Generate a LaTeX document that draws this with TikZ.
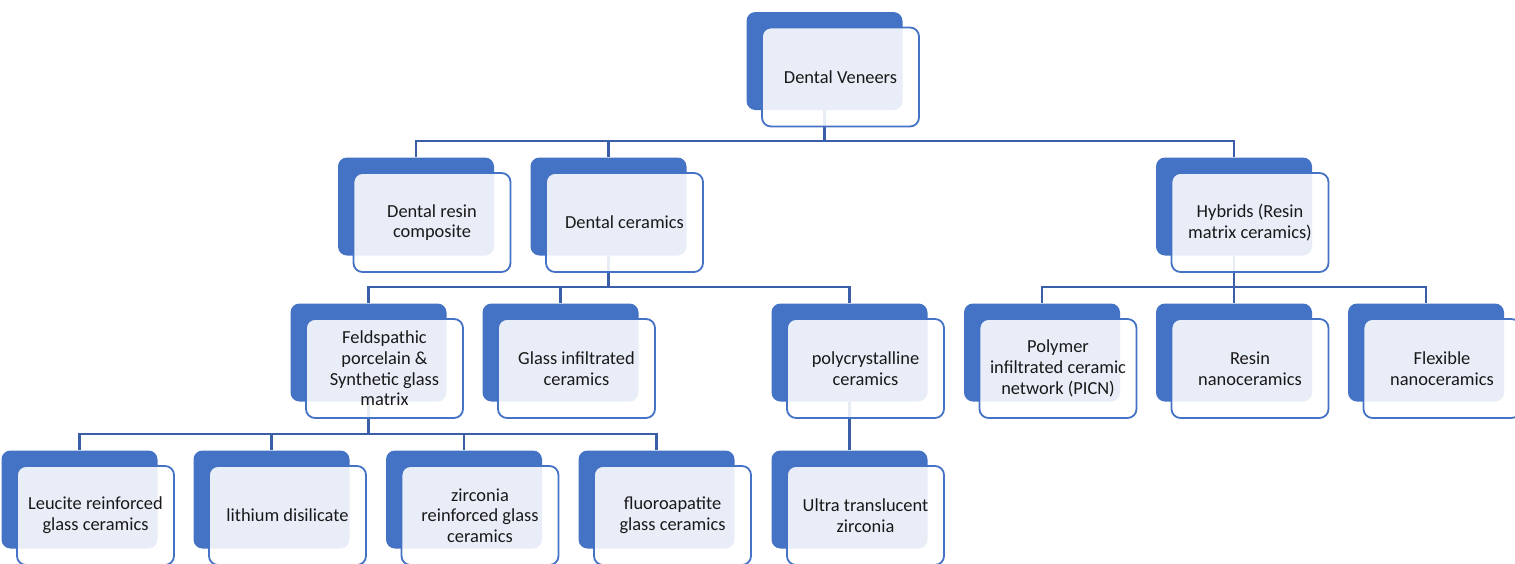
\documentclass[tikz,border=0pt]{standalone}
\usepackage{fontspec}
\setmainfont{Carlito}
\usetikzlibrary{calc}
\definecolor{accent}{RGB}{68,114,196}
\definecolor{linec}{RGB}{58,95,168}
\pgfdeclarelayer{backl}
\pgfdeclarelayer{lines}
\pgfsetlayers{backl,lines,main}
\begin{document}
\begin{tikzpicture}[x=1pt,y=-1pt,
  backbox/.style={fill=accent, draw=none, rounded corners=9pt, minimum width=156pt, minimum height=98pt, inner sep=0pt},
  frontbox/.style={fill=white, fill opacity=0.88, text opacity=1, draw=accent, line width=1.8pt, rounded corners=9pt, minimum width=157pt, minimum height=99pt, inner sep=0pt, align=center, font=\fontsize{18.4}{20.7}\selectfont, text=black!90},
  conn/.style={draw=linec, line width=2.2pt}]
\clip (0,0) rectangle (1515,563);
\useasboundingbox (0,0) rectangle (1515,563);
\begin{pgfonlayer}{backl}
\node[backbox] (vb) at (824.5,61) {};
\node[backbox] (rcb) at (416,206.5) {};
\node[backbox] (dcb) at (608.5,206.5) {};
\node[backbox] (hyb) at (1234,206.5) {};
\node[backbox] (feb) at (368.5,352.5) {};
\node[backbox] (gib) at (560.5,352.5) {};
\node[backbox] (pcb) at (849.5,352.5) {};
\node[backbox] (pib) at (1042,352.5) {};
\node[backbox] (rnb) at (1234,352.5) {};
\node[backbox] (fnb) at (1426,352.5) {};
\node[backbox] (leb) at (79.5,499.5) {};
\node[backbox] (lib) at (271.5,499.5) {};
\node[backbox] (zrb) at (464,499.5) {};
\node[backbox] (flb) at (656.5,499.5) {};
\node[backbox] (utb) at (849.5,499.5) {};
\end{pgfonlayer}
\node[frontbox] (v) at ($(vb)+(16,16)$) {Dental Veneers};
\node[frontbox] (rc) at ($(rcb)+(16,16)$) {Dental resin\\composite};
\node[frontbox] (dc) at ($(dcb)+(16,16)$) {Dental ceramics};
\node[frontbox] (hy) at ($(hyb)+(16,16)$) {Hybrids (Resin\\matrix ceramics)};
\node[frontbox] (fe) at ($(feb)+(16,16)$) {Feldspathic\\porcelain \&\\Synthetic glass\\matrix};
\node[frontbox] (gi) at ($(gib)+(16,16)$) {Glass infiltrated\\ceramics};
\node[frontbox] (pc) at ($(pcb)+(16,16)$) {polycrystalline\\ceramics};
\node[frontbox] (pi) at ($(pib)+(16,16)$) {Polymer\\infiltrated ceramic\\network (PICN)};
\node[frontbox] (rn) at ($(rnb)+(16,16)$) {Resin\\nanoceramics};
\node[frontbox] (fn) at ($(fnb)+(16,16)$) {Flexible\\nanoceramics};
\node[frontbox] (le) at ($(leb)+(16,16)$) {Leucite reinforced\\glass ceramics};
\node[frontbox] (li) at ($(lib)+(16,16)$) {lithium disilicate};
\node[frontbox] (zr) at ($(zrb)+(16,16)$) {zirconia\\reinforced glass\\ceramics};
\node[frontbox] (fl) at ($(flb)+(16,16)$) {fluoroapatite\\glass ceramics};
\node[frontbox] (ut) at ($(utb)+(16,16)$) {Ultra translucent\\zirconia};
\begin{pgfonlayer}{lines}
\foreach \c in {rcb,dcb,hyb}
  \draw[conn] (vb.south) |- ($(\c.north)+(0,16.5pt)$) -| (\c.north);
\foreach \c in {feb,gib,pcb}
  \draw[conn] (dcb.south) |- ($(\c.north)+(0,16.5pt)$) -| (\c.north);
\foreach \c in {pib,rnb,fnb}
  \draw[conn] (hyb.south) |- ($(\c.north)+(0,16.5pt)$) -| (\c.north);
\foreach \c in {leb,lib,zrb,flb}
  \draw[conn] (feb.south) |- ($(\c.north)+(0,16.5pt)$) -| (\c.north);
\draw[conn] (pcb.south) -- (utb.north);
\end{pgfonlayer}
\end{tikzpicture}
\end{document}
